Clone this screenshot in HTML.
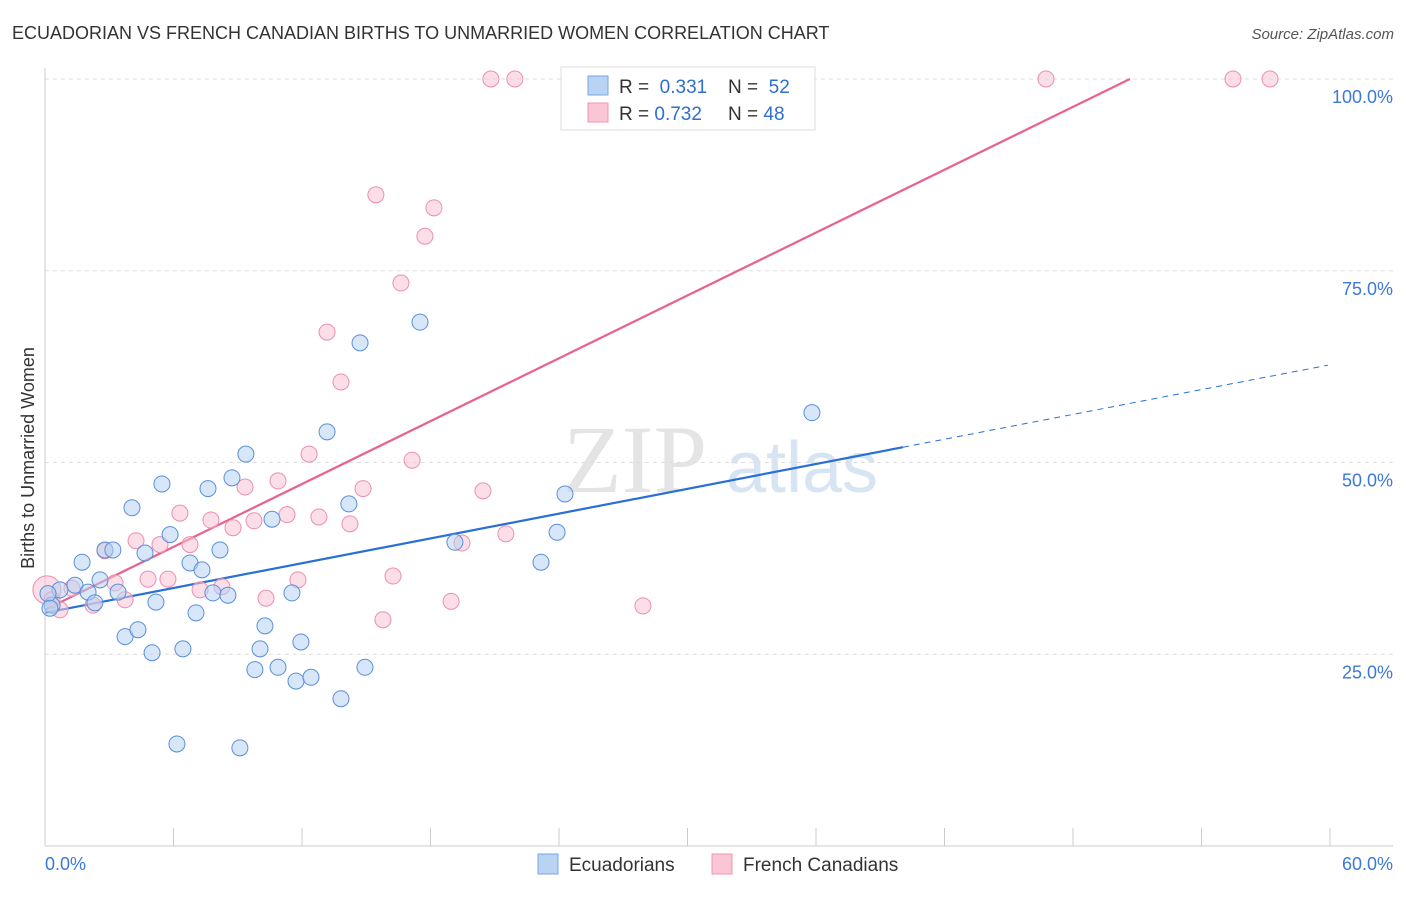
<!DOCTYPE html>
<html><head><meta charset="utf-8"><style>
body{margin:0;background:#fff;font-family:"Liberation Sans",sans-serif;}
</style></head><body>
<svg id="chart" width="1406" height="892" xmlns="http://www.w3.org/2000/svg">
<text x="12" y="39" font-size="18" fill="#333">ECUADORIAN VS FRENCH CANADIAN BIRTHS TO UNMARRIED WOMEN CORRELATION CHART</text>
<text x="1394" y="39" font-size="15" fill="#555" font-style="italic" text-anchor="end">Source: ZipAtlas.com</text>
<text x="34" y="458" font-size="18" fill="#333" transform="rotate(-90 34 458)" text-anchor="middle">Births to Unmarried Women</text>
<g>
<text x="635" y="492" font-size="96" fill="#e4e4e4" font-family="Liberation Serif,serif" text-anchor="middle">ZIP</text>
<text x="802" y="492" font-size="72" fill="#d6e4f3" text-anchor="middle">atlas</text>
</g>
<g id="grid"></g><g id="axes"></g><g id="trends"></g><g id="points"></g>
<g>
<rect x="561" y="67" width="254" height="63" fill="#fff" stroke="#ddd"/>
<rect x="588" y="76" width="20" height="19" fill="#b9d3f5" stroke="#7aa6e0"/>
<rect x="588" y="103" width="20" height="19" fill="#fac6d6" stroke="#f095b2"/>
<text x="619" y="93" font-size="19" fill="#333">R = <tspan fill="#2f6fd0">&#160;0.331</tspan></text>
<text x="728" y="93" font-size="19" fill="#333">N = <tspan fill="#2f6fd0">&#160;52</tspan></text>
<text x="619" y="120" font-size="19" fill="#333">R = <tspan fill="#2f6fd0">0.732</tspan></text>
<text x="728" y="120" font-size="19" fill="#333">N = <tspan fill="#2f6fd0">48</tspan></text>
</g>
<g>
<rect x="538" y="854" width="20" height="20" fill="#b9d3f5" stroke="#7aa6e0"/>
<text x="569" y="871" font-size="19" fill="#333">Ecuadorians</text>
<rect x="712" y="854" width="20" height="20" fill="#fac6d6" stroke="#f095b2"/>
<text x="743" y="871" font-size="19" fill="#333">French Canadians</text>
</g>
</svg>
<script>
const blueX=[0.33,0.70,1.40,1.73,2.01,2.33,2.57,2.80,3.17,3.41,3.74,4.06,4.34,4.67,5.00,5.18,5.46,5.84,6.16,6.44,6.77,7.05,7.33,7.61,7.84,8.17,8.54,8.73,9.10,9.38,9.80,10.04,10.27,10.60,10.88,11.53,11.72,11.95,12.42,13.17,13.82,14.19,14.71,14.94,17.51,19.14,23.16,23.91,24.28,35.81,0.14,0.23];
const blueY=[31.4,33.4,34.0,37.0,33.1,31.7,34.7,38.6,38.6,33.1,27.3,44.1,28.2,38.2,25.2,31.8,47.2,40.6,13.3,25.7,36.9,30.4,36.0,46.6,33.0,38.6,32.7,48.0,12.8,51.1,23.0,25.7,28.7,42.6,23.3,33.0,21.5,26.6,22.0,54.0,19.2,44.6,65.6,23.3,68.3,39.6,37.0,40.9,45.9,56.5,32.9,31.0];
const pinkX=[0.09,0.70,1.26,2.24,2.80,3.27,3.74,4.25,4.81,5.37,5.74,6.30,6.77,7.24,7.75,8.26,8.78,9.34,9.76,10.32,10.88,11.30,11.81,12.33,12.79,13.17,13.82,14.24,14.85,15.45,15.78,16.25,16.62,17.14,17.74,18.16,18.96,19.47,20.45,20.82,21.52,21.94,27.92,32.45,46.74,55.47,57.20,0.33];
const pinkY=[33.4,30.8,33.6,31.4,38.5,34.3,32.1,39.8,34.8,39.3,34.8,43.4,39.3,33.4,42.5,33.8,41.5,46.8,42.4,32.3,47.6,43.2,34.7,51.1,42.9,67.0,60.5,42.0,46.6,84.9,29.5,35.2,73.4,50.3,79.5,83.2,31.9,39.5,46.3,100,40.7,100,31.3,100,100,100,100,32.1];
const yTicks=[25,50,75,100];
const yTickLabels=["25.0%","50.0%","75.0%","100.0%"];
const xTickVals=[0,6,12,18,24,30,36,42,48,54,60];
const blueTrend=[30.4,0.539]; const blueSolidEnd=40.06;
const pinkTrend=[30.8,1.366];
const NS="http://www.w3.org/2000/svg";
const sx=v=>45+v*1285/60, sy=v=>846-v*7.67;
function mk(tag,attrs,parent){const e=document.createElementNS(NS,tag);for(const k in attrs)e.setAttribute(k,attrs[k]);parent.appendChild(e);return e;}
const grid=document.getElementById('grid'),axes=document.getElementById('axes'),tr=document.getElementById('trends'),pts=document.getElementById('points');
yTicks.forEach((t,i)=>{
 const l=mk('line',{x1:45,x2:1393,y1:sy(t),y2:sy(t),stroke:'#dedede','stroke-dasharray':'4,4'},grid);
 
 
 const tx=mk('text',{x:1393,y:sy(t)+24,'font-size':18,fill:'#3b78d8','text-anchor':'end'},axes);tx.textContent=yTickLabels[i];
 
 
});
let a=mk('line',{x1:45,x2:45,y1:68,y2:846,stroke:'#ccc'},axes);


a=mk('line',{x1:45,x2:1393,y1:846,y2:846,stroke:'#ccc'},axes);


xTickVals.forEach(v=>{const t=mk('line',{x1:sx(v),x2:sx(v),y1:828,y2:846,stroke:'#ccc'},axes);
 
 });
let t=mk('text',{x:45,y:870,'font-size':18,fill:'#3b78d8'},axes);t.textContent='0.0%';


t=mk('text',{x:1393,y:870,'font-size':18,fill:'#3b78d8','text-anchor':'end'},axes);t.textContent='60.0%';


function dot(x,y,fill,stroke,r,name){const c=mk('circle',{cx:sx(x),cy:sy(y),r:r,fill:fill,'fill-opacity':0.55,stroke:stroke,'stroke-width':1},pts);
 
 }
pinkX.forEach((x,i)=>dot(x,pinkY[i],'#f8c3d3','#ec8fae',i==0?14:8,'french-canadian-point'));
blueX.forEach((x,i)=>dot(x,blueY[i],'#b7d1f3','#5a8fd8',8,'ecuadorian-point'));
let L=mk('line',{x1:sx(0),y1:sy(blueTrend[0]),x2:sx(blueSolidEnd),y2:sy(blueTrend[0]+blueTrend[1]*blueSolidEnd),stroke:'#2a6fd6','stroke-width':2.2},tr);


L=mk('line',{x1:sx(blueSolidEnd),y1:sy(blueTrend[0]+blueTrend[1]*blueSolidEnd),x2:sx(59.9),y2:sy(blueTrend[0]+blueTrend[1]*59.9),stroke:'#2a6fd6','stroke-width':1,'stroke-dasharray':'6,5'},tr);


const pEnd=(100-pinkTrend[0])/pinkTrend[1];
L=mk('line',{x1:sx(0),y1:sy(pinkTrend[0]),x2:sx(pEnd),y2:sy(100),stroke:'#e8628f','stroke-width':2.2},tr);


</script>
</body></html>
